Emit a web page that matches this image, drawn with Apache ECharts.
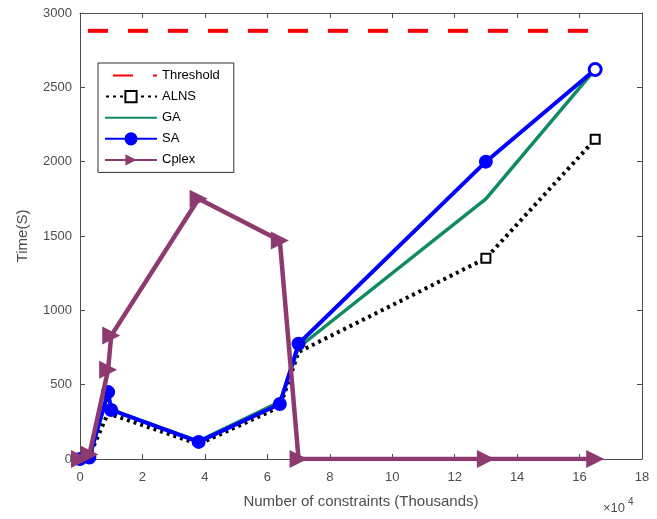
<!DOCTYPE html>
<html>
<head>
<meta charset="utf-8">
<script src="https://cdn.jsdelivr.net/npm/echarts@6/dist/echarts.min.js"></script>
<style>
  html, body { margin: 0; padding: 0; background: #fff; }
  #chart { width: 657px; height: 519px; }
</style>
</head>
<body>
<div id="chart"></div>
<script>
// number of constraints (raw), shown on axis in units of 10^4
const constraints = [0, 3000, 9000, 10000, 38000, 64000, 70000, 130000, 165000];
const threshold = 2880;
const alns  = [0, 20, 310, 300, 100, 350, 720, 1350, 2150];
const ga    = [0, 20, 440, 330, 120, 385, 750, 1750, 2620];
const sa    = [0, 10, 450, 330, 115, 370, 775, 2000, 2620];
const cplex = [0, 30, 600, 830, 1750, 1470, 0, 0, 0];

const font = 'Liberation Sans, Arial, sans-serif';
const gray = '#4d4d4d';

function pairs(ys, fn) {
  return constraints.map((x, i) => {
    const p = { value: [x, ys[i]] };
    if (fn) Object.assign(p, fn(i));
    return p;
  });
}

const tick = { inside: true, length: 5, lineStyle: { color: gray } };
const line = { show: true, onZero: false, lineStyle: { color: gray } };

const chart = echarts.init(document.getElementById('chart'));
chart.setOption({
  animation: false,
  grid: { left: 80, right: 15, top: 13, bottom: 60 },
  legend: {
    left: 98, top: 63, orient: 'vertical',
    itemWidth: 52, itemHeight: 14, itemGap: 8,
    padding: [6, 14, 6, 6],
    borderColor: '#333', borderWidth: 1, backgroundColor: '#fff',
    textStyle: { fontFamily: font, fontSize: 13, color: '#000' },
    data: [
      { name: 'Threshold', itemStyle: { opacity: 0 } },
      'ALNS',
      { name: 'GA', itemStyle: { opacity: 0 } },
      'SA',
      'Cplex'
    ]
  },
  xAxis: [{
    type: 'value', min: 0, max: 180000, interval: 20000,
    name: 'Number of constraints (Thousands)', nameLocation: 'middle', nameGap: 35,
    nameTextStyle: { fontFamily: font, fontSize: 15, color: gray },
    axisLine: line, axisTick: tick,
    axisLabel: { fontFamily: font, fontSize: 13, color: gray, margin: 12,
      formatter: v => String(v / 10000) },
    splitLine: { show: false }
  }, {
    type: 'value', position: 'top', min: 0, max: 180000, interval: 20000,
    axisLine: line, axisTick: tick,
    axisLabel: { show: false }, splitLine: { show: false }
  }],
  yAxis: [{
    type: 'value', min: 0, max: 3000, interval: 500,
    name: 'Time(S)', nameLocation: 'middle', nameGap: 50,
    nameTextStyle: { fontFamily: font, fontSize: 15, color: gray },
    axisLine: line, axisTick: tick,
    axisLabel: { fontFamily: font, fontSize: 13, color: gray, margin: 8,
      formatter: v => String(v) },
    splitLine: { show: false }
  }, {
    type: 'value', position: 'right', min: 0, max: 3000, interval: 500,
    axisLine: line, axisTick: tick,
    axisLabel: { show: false }, splitLine: { show: false }
  }],
  series: [
    {
      name: 'Threshold', type: 'line', symbol: 'none',
      color: '#ff0000',
      lineStyle: { color: '#ff0000', width: 4, type: [20, 20], dashOffset: -8 },
      data: [[0, threshold], [165000, threshold]]
    },
    {
      name: 'ALNS', type: 'line', color: '#000',
      lineStyle: { color: '#000', width: 4, type: [3, 4] },
      symbol: 'emptyRect', symbolSize: 9,
      itemStyle: { color: '#000', borderColor: '#000', borderWidth: 2 },
      data: pairs(alns, i => (i < 7 ? { symbol: 'none' } : {}))
    },
    {
      name: 'GA', type: 'line', symbol: 'none', color: '#0f8c5f',
      lineStyle: { color: '#0f8c5f', width: 3.5 },
      data: pairs(ga)
    },
    {
      name: 'SA', type: 'line', color: '#0000ff',
      lineStyle: { color: '#0000ff', width: 4 },
      symbol: 'circle', symbolSize: 12,
      itemStyle: { color: '#0000ff', borderColor: '#0000ff', borderWidth: 2 },
      z: 3,
      data: pairs(sa, i => (i === 8 ? { symbol: 'circle', symbolSize: 12, itemStyle: { color: '#ffffff', borderColor: '#0000ff', borderWidth: 3 } } : {}))
    },
    {
      name: 'Cplex', type: 'line', color: '#8c3a70',
      lineStyle: { color: '#8c3a70', width: 4.5 },
      symbol: 'triangle', symbolRotate: -90, symbolSize: 18,
      itemStyle: { color: '#8c3a70' },
      z: 4,
      data: pairs(cplex)
    }
  ],
  graphic: [{
    type: 'text', left: 603, top: 502,
    style: { text: '×10', fontFamily: font, fontSize: 13, fill: gray }
  }, {
    type: 'text', left: 628, top: 497,
    style: { text: '4', fontFamily: font, fontSize: 10, fill: gray }
  }]
});
</script>
</body>
</html>
